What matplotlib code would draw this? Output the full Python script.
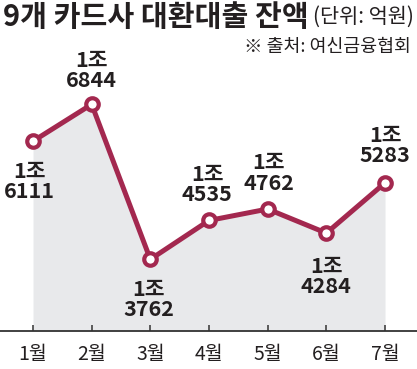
import matplotlib.pyplot as plt
import numpy as np

plt.rcParams['font.family'] = ['Noto Sans CJK KR', 'DejaVu Sans']

# data (억원)
months = ["1월", "2월", "3월", "4월", "5월", "6월", "7월"]
balance = [16111, 16844, 13762, 14535, 14762, 14284, 15283]
# label offsets in pixels (dx, dy) relative to the point
labelOffsets = [(-4, -40), (0, 34), (-2, -40), (-2, 36), (1, 36), (0, -43), (0, 37)]

lineColor = '#a3284f'
fillColor = '#e8e9eb'
textColor = '#231f20'

W, H = 417, 369
fig = plt.figure(figsize=(W / 100, H / 100), dpi=100)
ax = fig.add_axes([0, 0, 1, 1])
ax.set_xlim(-0.5625, 6.545)
ax.set_ylim(11582, 18918)
ax.axis('off')

baseline = 12337
x = np.arange(len(months))

ax.fill_between(x, baseline, balance, color=fillColor, lw=0, zorder=1)
ax.axhline(baseline, color='#333333', lw=1.3, zorder=2)
ax.plot(x, [baseline] * len(x), linestyle='none', marker=2, markersize=4,
        markeredgewidth=1.1, color='#333333', zorder=2)

ax.plot(x, balance, color=lineColor, lw=3.6, zorder=3, solid_capstyle='round',
        marker='o', markersize=9, markerfacecolor='white',
        markeredgecolor=lineColor, markeredgewidth=3.0)

for i, v in enumerate(balance):
    dx, dy = labelOffsets[i]
    ax.annotate("1조\n" + str(v - 10000), (i, v), xytext=(dx, dy),
                textcoords='offset pixels', ha='center', va='center',
                fontsize=15.5, fontweight='bold', color=textColor,
                linespacing=0.95, zorder=4)
    ax.annotate(months[i], (i, baseline), xytext=(0, -23),
                textcoords='offset pixels', ha='center', va='center',
                fontsize=14, color=textColor)

fig.text(3 / W, 1 - 17 / H, "9개 카드사 대환대출 잔액", fontsize=21,
         fontweight='bold', color=textColor, ha='left', va='center')
fig.text(414 / W, 1 - 17 / H, "(단위: 억원)", fontsize=15,
         color=textColor, ha='right', va='center')
fig.text(411 / W, 1 - 47 / H, "※ 출처: 여신금융협회", fontsize=13.2,
         color=textColor, ha='right', va='center')

plt.savefig("out.png", dpi=100)
